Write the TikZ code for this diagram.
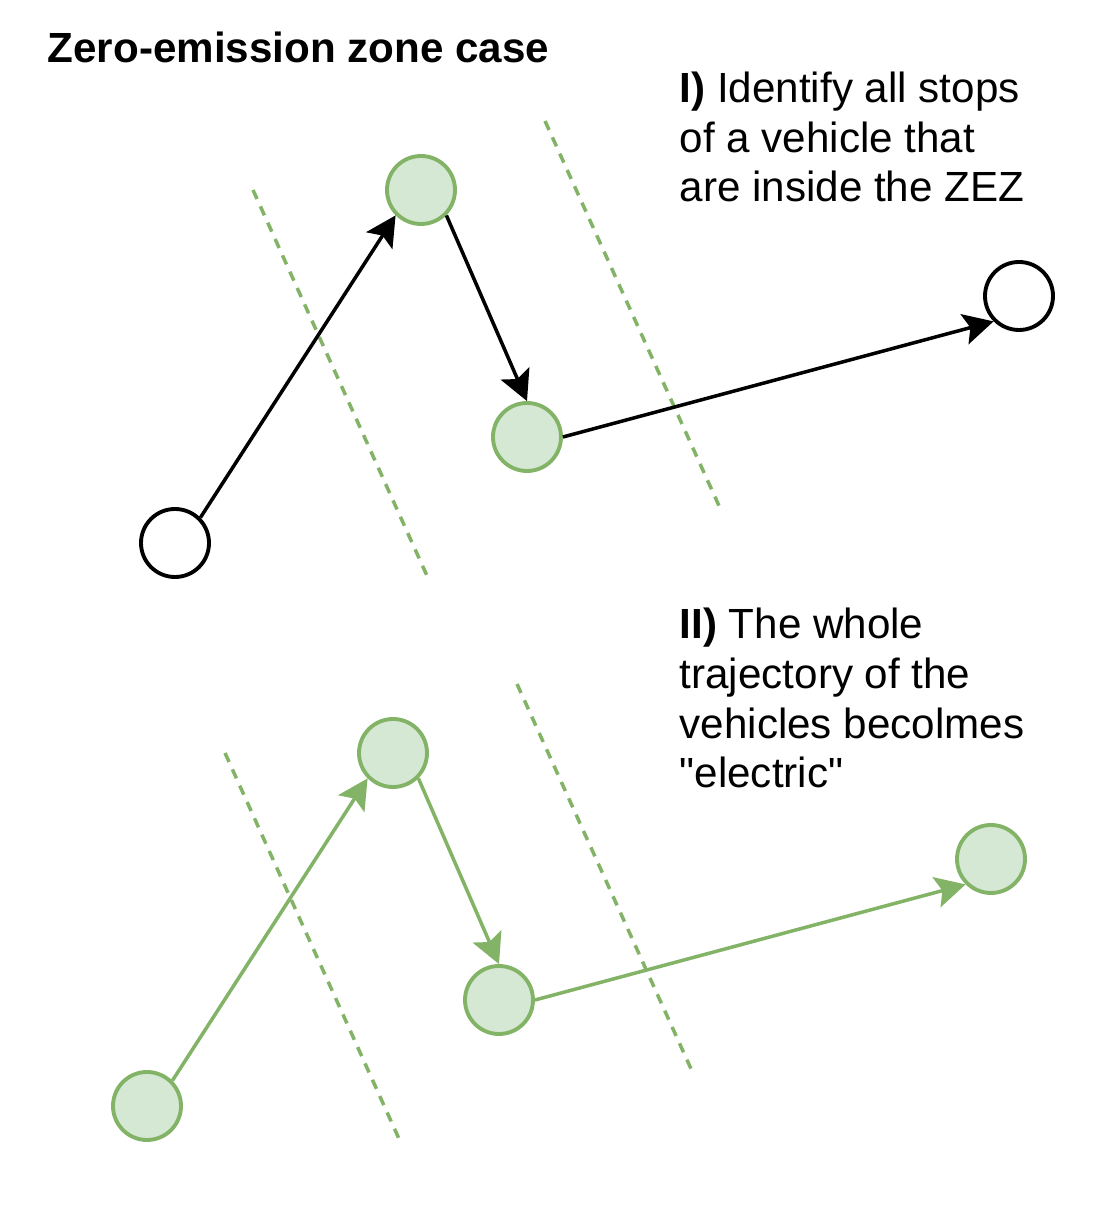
\documentclass[tikz,border=0pt]{standalone}
\usepackage{fontspec}
\setmainfont{Liberation Sans}[Ligatures=TeXOff]
\usepackage{tikz}
\usetikzlibrary{arrows.meta}
\makeatletter
\renewcommand\large{\@setfontsize\large{12}{14.2}}
\makeatother
\definecolor{zezfill}{HTML}{D5E8D4}
\definecolor{zezline}{HTML}{82B366}

\begin{document}
\begin{tikzpicture}[
  stop/.style={circle,draw=black,fill=white,line width=1.1pt,minimum size=0.68cm,inner sep=0pt},
  zezstop/.style={stop,draw=zezline,fill=zezfill},
  route/.style={line width=1pt,-{Stealth[length=3mm,width=3.1mm,inset=0.6mm]}},
  zone/.style={zezline,line width=1pt,dash pattern=on 2.8pt off 2.3pt},
  txt/.style={font=\large,align=left,anchor=base west,inner sep=0pt}]
\useasboundingbox(0,0)rectangle(11.12,12.15);
\node[txt,font=\bfseries\large](title)at(0.47,11.52){Zero-emission zone case};
% I) only the stops inside the zone
\draw[zone](2.53,10.25)--(4.28,6.37);
\draw[zone](5.45,10.94)--(7.20,7.07);
\node[stop](s1)at(1.75,6.72){};
\node[zezstop](s2)at(4.21,10.25){};
\node[zezstop](s3)at(5.27,7.78){};
\node[stop](s4)at(10.19,9.19){};
\draw[route](s1.north east)--(s2.south west);
\draw[route](s2.south east)--(s3.north);
\draw[route](s3.east)--(s4.south west);
\node[txt](t1)at(6.79,10.13){\textbf{I)} Identify all stops\\of a vehicle that\\are inside the ZEZ};
% II) the whole trajectory
\draw[zone](2.25,4.62)--(4.00,0.74);
\draw[zone](5.17,5.31)--(6.92,1.44);
\node[zezstop](e1)at(1.47,1.09){};
\node[zezstop](e2)at(3.93,4.62){};
\node[zezstop](e3)at(4.99,2.15){};
\node[zezstop](e4)at(9.91,3.56){};
\draw[route,zezline](e1.north east)--(e2.south west);
\draw[route,zezline](e2.south east)--(e3.north);
\draw[route,zezline](e3.east)--(e4.south west);
\node[txt](t2)at(6.79,4.27){\textbf{II)} The whole\\trajectory of the\\vehicles becolmes\\"electric"};
\end{tikzpicture}
\end{document}
